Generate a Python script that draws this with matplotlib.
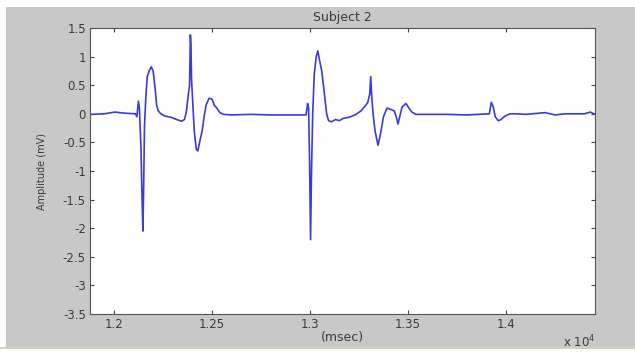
import matplotlib
matplotlib.use("Agg")
import matplotlib.pyplot as plt
from matplotlib.patches import Rectangle

# time (msec) and amplitude (mV)
time_ms = [11878, 11950, 12005, 12056, 12110, 12117, 12125, 12130, 12138, 12143, 12148, 12152,
           12156, 12163, 12170, 12180, 12190, 12200, 12210, 12218, 12226, 12240, 12260, 12290,
           12320, 12345, 12360, 12370, 12380, 12386, 12390, 12393, 12396, 12402, 12410, 12420,
           12428, 12440, 12450, 12460, 12470, 12485, 12500, 12512, 12525, 12540, 12560, 12600,
           12700, 12800, 12900, 12980, 12988, 12993, 12998, 13003, 13008, 13014, 13022, 13032,
           13040, 13048, 13060, 13072, 13085, 13095, 13110, 13130, 13150, 13170, 13200, 13230,
           13260, 13285, 13295, 13305, 13310, 13315, 13322, 13332, 13347, 13360, 13375, 13393,
           13410, 13430, 13440, 13449, 13458, 13470, 13490, 13505, 13520, 13540, 13600, 13700,
           13800, 13915, 13925, 13935, 13945, 13960, 13975, 13995, 14020, 14050, 14100, 14200,
           14250, 14300, 14400, 14430, 14454]
amplitude = [-0.01, 0.0, 0.03, 0.01, 0.0, -0.05, 0.22, 0.1, -0.6, -1.4, -2.05, -1.2,
             -0.2, 0.3, 0.65, 0.75, 0.82, 0.75, 0.45, 0.15, 0.05, 0.0, -0.04, -0.06,
             -0.1, -0.13, -0.1, 0.05, 0.35, 0.5, 1.38, 1.2, 0.6, 0.2, -0.3, -0.62,
             -0.65, -0.45, -0.3, -0.05, 0.15, 0.27, 0.26, 0.15, 0.1, 0.02, -0.01, -0.02,
             -0.01, -0.02, -0.02, -0.02, 0.18, 0.1, -0.8, -2.2, -1.0, 0.0, 0.7, 1.0,
             1.1, 0.95, 0.75, 0.4, 0.0, -0.12, -0.14, -0.1, -0.12, -0.08, -0.06, -0.02,
             0.05, 0.15, 0.2, 0.35, 0.65, 0.3, 0.0, -0.3, -0.55, -0.35, -0.05, 0.1,
             0.08, 0.05, -0.05, -0.18, -0.05, 0.12, 0.18, 0.1, 0.03, -0.01, -0.01, -0.01,
             -0.02, 0.0, 0.2, 0.12, -0.05, -0.12, -0.1, -0.04, 0.0, 0.0, -0.01, 0.02,
             -0.02, 0.0, 0.0, 0.03, -0.01]

x_ticks = [12000, 12500, 13000, 13500, 14000]
x_tick_labels = ["1.2", "1.25", "1.3", "1.35", "1.4"]
y_ticks = [1.5, 1.0, 0.5, 0.0, -0.5, -1.0, -1.5, -2.0, -2.5, -3.0, -3.5]
y_tick_labels = ["1.5", "1", "0.5", "0", "-0.5", "-1", "-1.5", "-2", "-2.5", "-3", "-3.5"]

W, H = 635, 354
fig = plt.figure(figsize=(W / 100, H / 100), dpi=100)
fig.patch.set_facecolor("white")

bg = fig.add_axes([0, 0, 1, 1], zorder=0)
bg.set_axis_off()
bg.set_xlim(0, W)
bg.set_ylim(H, 0)
bg.add_patch(Rectangle((6, 7), W - 6, 341, facecolor="#c8c8c8", edgecolor="none"))
bg.add_patch(Rectangle((0, 347), W, 2, facecolor="#d8cfc0", edgecolor="none"))

ax = fig.add_axes([90 / W, (H - 314) / H, (595 - 90) / W, (314 - 28) / H], zorder=2)
ax.set_facecolor("white")
ax.plot(time_ms, amplitude, color="#3a3ae0", lw=1.2)
ax.set_xlim(11878, 14454)
ax.set_ylim(-3.5, 1.5)
ax.set_xticks(x_ticks)
ax.set_xticklabels(x_tick_labels)
ax.set_yticks(y_ticks)
ax.set_yticklabels(y_tick_labels)
ax.tick_params(direction="in", length=3, width=0.8, top=True, right=True,
               labelsize=8.5, labelcolor="#3a3a3a", color="#444444", pad=3)
for s in ax.spines.values():
    s.set_color("#555555")
    s.set_linewidth(0.8)

fig.text(342 / W, 1 - 18 / H, "Subject 2", ha="center", va="center", fontsize=9, color="#3a3a3a", zorder=3)
fig.text(42 / W, 1 - 171 / H, "Amplitude (mV)", ha="center", va="center", rotation=90,
         fontsize=7, color="#3a3a3a", zorder=3)
fig.text(342 / W, 1 - 338 / H, "(msec)", ha="center", va="center", fontsize=9, color="#3a3a3a", zorder=3)
fig.text(579 / W, 1 - 342 / H, r"x 10$^4$", ha="center", va="center", fontsize=8.5, color="#3a3a3a", zorder=3)

fig.savefig("out.png", dpi=100, facecolor=fig.get_facecolor())
